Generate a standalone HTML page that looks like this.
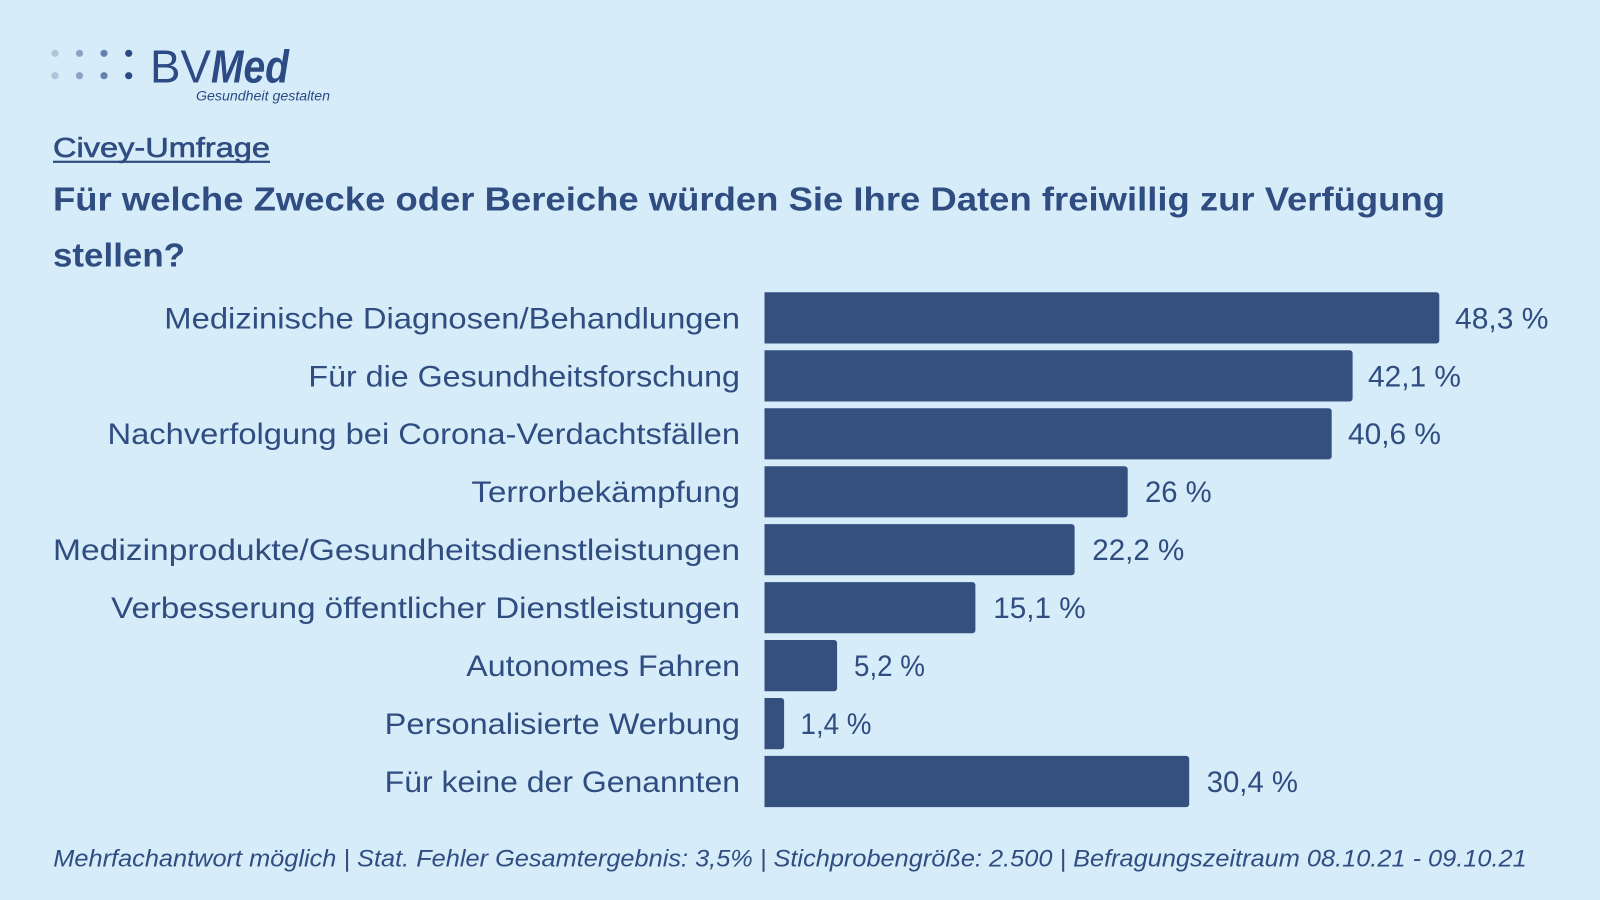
<!DOCTYPE html>
<html>
<head>
<meta charset="utf-8">
<style>
  html, body { margin: 0; padding: 0; width: 1600px; height: 900px; overflow: hidden; background: #d7ecf9; }
  svg { display: block; }
  text { font-family: "Liberation Sans", "DejaVu Sans", sans-serif; fill: #2f4d80; }
</style>
</head>
<body>
<svg width="1600" height="900" viewBox="0 0 1600 900" xmlns="http://www.w3.org/2000/svg">
  <rect x="0" y="0" width="1600" height="900" fill="#d7ecf9"/>

  <!-- Logo -->
  <g>
    <circle cx="55" cy="53.3" r="3.6" fill="#b2c3da"/>
    <circle cx="55" cy="75.7" r="3.6" fill="#b2c3da"/>
    <circle cx="79.5" cy="53.3" r="3.6" fill="#8da3c6"/>
    <circle cx="79.5" cy="75.7" r="3.6" fill="#8da3c6"/>
    <circle cx="104" cy="53.3" r="3.6" fill="#6681b0"/>
    <circle cx="104" cy="75.7" r="3.6" fill="#6681b0"/>
    <circle cx="128.7" cy="53.3" r="3.6" fill="#2c4a84"/>
    <circle cx="128.7" cy="75.7" r="3.6" fill="#2c4a84"/>
    <text x="150" y="82.3" font-size="46" textLength="61" lengthAdjust="spacingAndGlyphs" style="fill:#2c4a84">BV</text>
    <text x="211" y="82.3" font-size="46" font-weight="bold" font-style="italic" textLength="78" lengthAdjust="spacingAndGlyphs" style="fill:#2c4a84">Med</text>
    <text x="196" y="100.7" font-size="13.5" font-style="italic" textLength="134" lengthAdjust="spacingAndGlyphs" style="fill:#2c4a84">Gesundheit gestalten</text>
  </g>

  <!-- Titles -->
  <text x="53" y="157" font-size="28" textLength="217" lengthAdjust="spacingAndGlyphs" style="stroke:#2f4d80;stroke-width:0.6">Civey-Umfrage</text>
  <rect x="53" y="160.7" width="217" height="2.2" fill="#2f4d80"/>
  <text x="53" y="210.7" font-size="33.5" font-weight="bold" textLength="1392" lengthAdjust="spacingAndGlyphs">Für welche Zwecke oder Bereiche würden Sie Ihre Daten freiwillig zur Verfügung</text>
  <text x="53" y="266.7" font-size="33.5" font-weight="bold" textLength="132" lengthAdjust="spacingAndGlyphs">stellen?</text>

  <!-- Bars -->
  <g fill="#34507f">
    <path d="M764.5 292.3 H1436.3 a3 3 0 0 1 3 3 V340.5 a3 3 0 0 1 -3 3 H764.5 Z"/>
    <path d="M764.5 350.3 H1349.6 a3 3 0 0 1 3 3 V398.5 a3 3 0 0 1 -3 3 H764.5 Z"/>
    <path d="M764.5 408.2 H1328.7 a3 3 0 0 1 3 3 V456.4 a3 3 0 0 1 -3 3 H764.5 Z"/>
    <path d="M764.5 466.2 H1124.7 a3 3 0 0 1 3 3 V514.4 a3 3 0 0 1 -3 3 H764.5 Z"/>
    <path d="M764.5 524.1 H1071.6 a3 3 0 0 1 3 3 V572.3 a3 3 0 0 1 -3 3 H764.5 Z"/>
    <path d="M764.5 582.1 H972.4 a3 3 0 0 1 3 3 V630.3 a3 3 0 0 1 -3 3 H764.5 Z"/>
    <path d="M764.5 640.0 H834.1 a3 3 0 0 1 3 3 V688.2 a3 3 0 0 1 -3 3 H764.5 Z"/>
    <path d="M764.5 698.0 H781.1 a3 3 0 0 1 3 3 V746.2 a3 3 0 0 1 -3 3 H764.5 Z"/>
    <path d="M764.5 755.9 H1186.2 a3 3 0 0 1 3 3 V804.1 a3 3 0 0 1 -3 3 H764.5 Z"/>
  </g>

  <!-- Category labels -->
  <g font-size="30" text-anchor="end">
    <text x="740" y="328.3" textLength="575.7" lengthAdjust="spacingAndGlyphs">Medizinische Diagnosen/Behandlungen</text>
    <text x="740" y="386.3" textLength="431.6" lengthAdjust="spacingAndGlyphs">Für die Gesundheitsforschung</text>
    <text x="740" y="444.2" textLength="632.5" lengthAdjust="spacingAndGlyphs">Nachverfolgung bei Corona-Verdachtsfällen</text>
    <text x="740" y="502.2" textLength="268.6" lengthAdjust="spacingAndGlyphs">Terrorbekämpfung</text>
    <text x="740" y="560.1" textLength="687" lengthAdjust="spacingAndGlyphs">Medizinprodukte/Gesundheitsdienstleistungen</text>
    <text x="740" y="618.1" textLength="628.8" lengthAdjust="spacingAndGlyphs">Verbesserung öffentlicher Dienstleistungen</text>
    <text x="740" y="676.0" textLength="273.7" lengthAdjust="spacingAndGlyphs">Autonomes Fahren</text>
    <text x="740" y="734.0" textLength="355.3" lengthAdjust="spacingAndGlyphs">Personalisierte Werbung</text>
    <text x="740" y="791.9" textLength="355.3" lengthAdjust="spacingAndGlyphs">Für keine der Genannten</text>
  </g>

  <!-- Value labels -->
  <g font-size="30">
    <text x="1455" y="328.3" textLength="93.5" lengthAdjust="spacingAndGlyphs">48,3 %</text>
    <text x="1368" y="386.3" textLength="93" lengthAdjust="spacingAndGlyphs">42,1 %</text>
    <text x="1348" y="444.2" textLength="93" lengthAdjust="spacingAndGlyphs">40,6 %</text>
    <text x="1145" y="502.2" textLength="66.7" lengthAdjust="spacingAndGlyphs">26 %</text>
    <text x="1092.3" y="560.1" textLength="92" lengthAdjust="spacingAndGlyphs">22,2 %</text>
    <text x="993.3" y="618.1" textLength="92.4" lengthAdjust="spacingAndGlyphs">15,1 %</text>
    <text x="854" y="676.0" textLength="71" lengthAdjust="spacingAndGlyphs">5,2 %</text>
    <text x="800.5" y="734.0" textLength="71" lengthAdjust="spacingAndGlyphs">1,4 %</text>
    <text x="1206.7" y="791.9" textLength="91.3" lengthAdjust="spacingAndGlyphs">30,4 %</text>
  </g>

  <!-- Footer -->
  <text x="53.3" y="866.7" font-size="24" font-style="italic" textLength="1473.4" lengthAdjust="spacingAndGlyphs">Mehrfachantwort möglich | Stat. Fehler Gesamtergebnis: 3,5% | Stichprobengröße: 2.500 | Befragungszeitraum 08.10.21 - 09.10.21</text>
</svg>
</body>
</html>
